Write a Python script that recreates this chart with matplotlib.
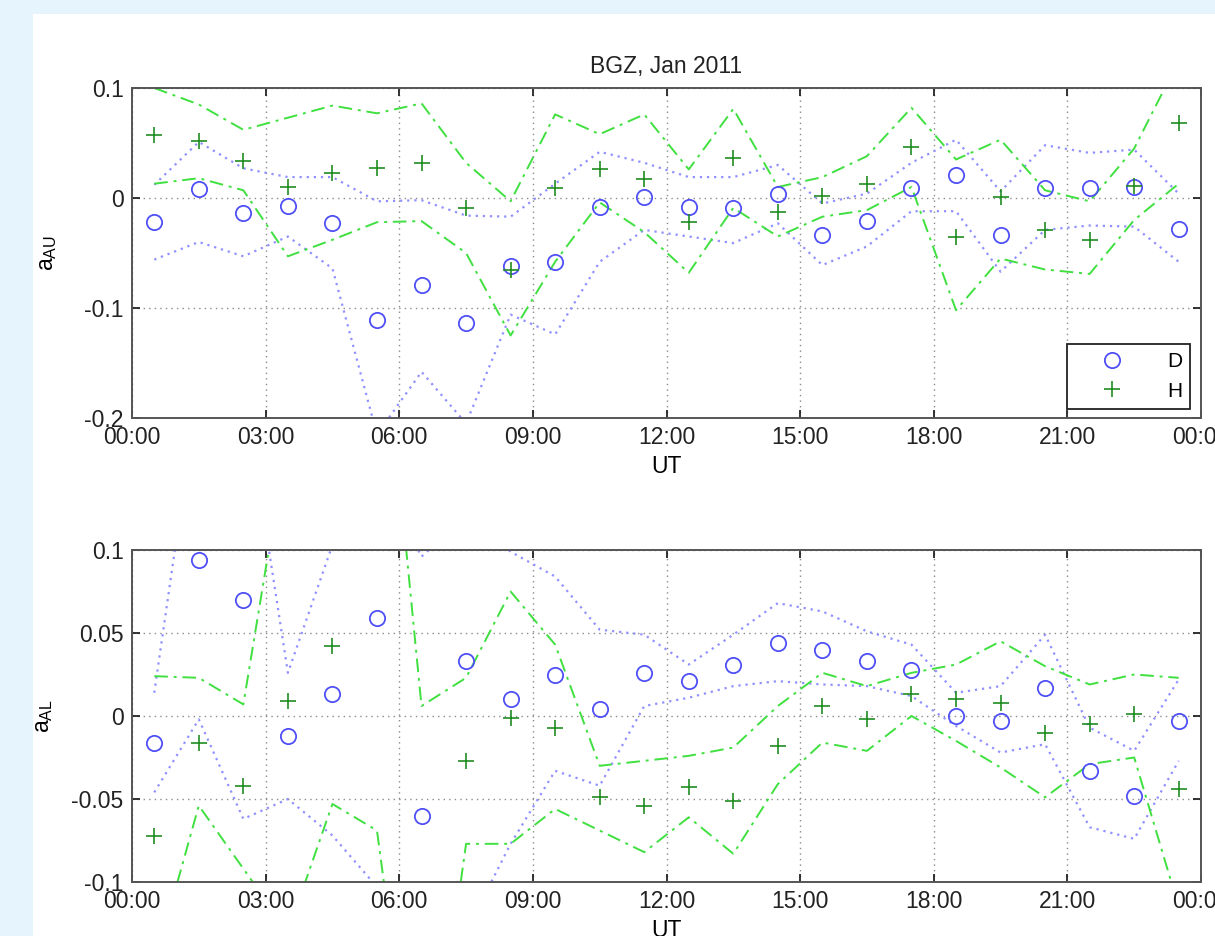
import matplotlib.pyplot as plt
import numpy as np
from matplotlib.patches import Rectangle

plt.rcParams['font.family'] = ['Liberation Sans', 'DejaVu Sans']
plt.rcParams['axes.unicode_minus'] = False
plt.rcParams['mathtext.default'] = 'regular'

# hourly bins (UT), values at the middle of each hour
hours = np.arange(0.5, 24, 1.0)
xtick_pos = np.arange(0, 25, 3)
xtick_labels = ['00:00', '03:00', '06:00', '09:00', '12:00', '15:00', '18:00', '21:00', '00:00']

# a_AU: D and H components with their bounds
au_D = [-0.022, 0.008, -0.014, -0.007, -0.023, -0.111, -0.079, -0.114, -0.062, -0.058, -0.008, 0.001,
        -0.008, -0.009, 0.004, -0.034, -0.021, 0.009, 0.021, -0.034, 0.009, 0.009, 0.010, -0.028]
au_H = [0.057, 0.052, 0.034, 0.010, 0.023, 0.027, 0.032, -0.009, -0.065, 0.009, 0.026, 0.017,
        -0.022, 0.036, -0.013, 0.002, 0.013, 0.046, -0.035, 0.001, -0.029, -0.038, 0.011, 0.068]
au_D_hi = [0.012, 0.051, 0.027, 0.019, 0.019, -0.003, -0.002, -0.016, -0.017, 0.013, 0.042, 0.032,
           0.019, 0.019, 0.030, -0.005, 0.004, 0.032, 0.053, 0.006, 0.048, 0.041, 0.044, 0.004]
au_D_lo = [-0.056, -0.040, -0.053, -0.035, -0.064, -0.215, -0.158, -0.205, -0.106, -0.124, -0.058, -0.029,
           -0.035, -0.041, -0.023, -0.061, -0.044, -0.012, -0.012, -0.067, -0.029, -0.025, -0.026, -0.058]
au_H_hi = [0.100, 0.085, 0.062, 0.073, 0.084, 0.077, 0.086, 0.032, -0.003, 0.076, 0.058, 0.076,
           0.026, 0.081, 0.010, 0.019, 0.038, 0.082, 0.035, 0.053, 0.007, -0.003, 0.045, 0.125]
au_H_lo = [0.013, 0.018, 0.007, -0.053, -0.038, -0.022, -0.021, -0.050, -0.125, -0.058, -0.004, -0.031,
           -0.068, -0.009, -0.035, -0.017, -0.011, 0.010, -0.102, -0.055, -0.065, -0.069, -0.020, 0.013]

# a_AL: D and H components with their bounds
al_D = [-0.016, 0.094, 0.070, -0.012, 0.013, 0.059, -0.060, 0.033, 0.010, 0.025, 0.004, 0.026,
        0.021, 0.031, 0.044, 0.040, 0.033, 0.028, 0.000, -0.003, 0.017, -0.033, -0.048, -0.003]
al_H = [-0.072, -0.016, -0.042, 0.009, 0.042, np.nan, np.nan, -0.027, -0.001, -0.007, -0.049, -0.054,
        -0.043, -0.051, -0.018, 0.006, -0.002, 0.013, 0.010, 0.008, -0.010, -0.005, 0.001, -0.044]
al_D_hi = [0.014, 0.200, 0.200, 0.026, 0.103, 0.150, 0.096, 0.120, 0.099, 0.084, 0.052, 0.049,
           0.031, 0.049, 0.068, 0.063, 0.051, 0.043, 0.014, 0.018, 0.049, -0.007, -0.021, 0.022]
al_D_lo = [-0.046, -0.002, -0.062, -0.050, -0.072, -0.103, -0.140, -0.130, -0.077, -0.033, -0.042, 0.006,
           0.011, 0.018, 0.021, 0.019, 0.018, 0.012, -0.006, -0.022, -0.017, -0.067, -0.074, -0.027]
al_H_hi = [0.024, 0.023, 0.007, 0.170, 0.200, 0.280, 0.006, 0.023, 0.075, 0.043, -0.030, -0.027,
           -0.024, -0.019, 0.006, 0.026, 0.018, 0.026, 0.031, 0.045, 0.030, 0.019, 0.025, 0.023]
al_H_lo = [-0.150, -0.054, -0.092, -0.130, -0.053, -0.069, -0.270, -0.077, -0.077, -0.056, -0.069, -0.082,
           -0.061, -0.083, -0.041, -0.016, -0.021, 0.000, -0.015, -0.031, -0.049, -0.029, -0.025, -0.115]

blue = '#4f4ff7'
blue_light = '#9090ff'
green = '#208c20'
green_light = '#3fe03f'
fs = 16.5

fig = plt.figure(figsize=(12.15, 9.36), dpi=100, facecolor='#e6f4fd')
# white page behind the plots
fig.patches.append(Rectangle((33 / 1215, 0), 1, 922 / 936, transform=fig.transFigure,
                             facecolor='white', edgecolor='none', zorder=-1))

ax1 = fig.add_axes([132 / 1215, 518 / 936, 1069 / 1215, 330 / 936])
ax2 = fig.add_axes([132 / 1215, 54 / 936, 1069 / 1215, 332 / 936])


def draw_panel(ax, d, h, d_lo, d_hi, h_lo, h_hi, ylim, yticks, ylabels, ylabel, ylab_x):
    for b in (d_lo, d_hi):
        ax.plot(hours, b, color=blue_light, ls=(0, (1, 2.2)), lw=1.6)
    for b in (h_lo, h_hi):
        ax.plot(hours, b, color=green_light, ls=(0, (7, 3, 1.5, 3)), lw=1.4)
    ax.plot(hours, d, 'o', ls='none', mfc='none', mec=blue, ms=11, mew=1.3, label='D')
    ax.plot(hours, h, '+', ls='none', color=green, ms=11, mew=1.2, label='H')

    ax.set_xlim(0, 24)
    ax.set_ylim(*ylim)
    ax.set_xticks(xtick_pos)
    ax.set_xticklabels(xtick_labels)
    ax.set_yticks(yticks)
    ax.set_yticklabels(ylabels)
    ax.set_xlabel('UT', fontsize=fs, labelpad=4)
    ax.set_ylabel(ylabel, fontsize=fs)
    ax.yaxis.set_label_coords(ylab_x, 0.5)

    ax.set_axisbelow(True)
    ax.grid(True, color='#8a8a8a', ls=(0, (1, 3)), lw=1.0)
    ax.tick_params(direction='in', length=6, width=1.3, top=True, right=True,
                   labelsize=fs, colors='#222222', pad=6)
    for s in ax.spines.values():
        s.set_color('#555555')
        s.set_linewidth(1.4)


draw_panel(ax1, au_D, au_H, au_D_lo, au_D_hi, au_H_lo, au_H_hi,
           (-0.2, 0.1), [-0.2, -0.1, 0, 0.1], ['-0.2', '-0.1', '0', '0.1'], 'a$_{AU}$', -0.068)
draw_panel(ax2, al_D, al_H, al_D_lo, al_D_hi, al_H_lo, al_H_hi,
           (-0.1, 0.1), [-0.1, -0.05, 0, 0.05, 0.1], ['-0.1', '-0.05', '0', '0.05', '0.1'], 'a$_{AL}$', -0.072)

ax1.set_title('BGZ, Jan 2011', fontsize=fs, pad=11, color='#222222')

leg = ax1.legend(loc='lower right', bbox_to_anchor=(0.99, 0.027), borderaxespad=0,
                 fancybox=False, framealpha=1, edgecolor='#222222', fontsize=15,
                 handlelength=3.5, handletextpad=0.9, labelspacing=0.5, borderpad=0.4)
leg.get_frame().set_linewidth(1.3)

fig.savefig('out.png', dpi=100, facecolor=fig.get_facecolor())
